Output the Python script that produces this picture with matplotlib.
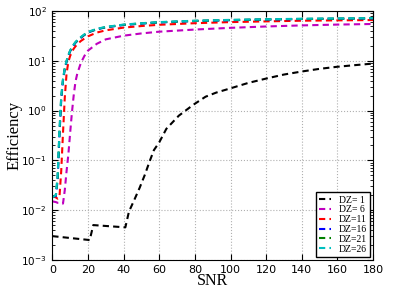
import matplotlib
matplotlib.use("Agg")
import matplotlib.pyplot as plt

# SNR sample points and efficiency values
snr_dz1 = [0, 21, 23, 41, 43, 46, 49, 52, 54.5, 57, 60, 64, 71, 79, 86, 92, 100, 110, 120, 130, 140, 150, 160, 170, 180]
eff_dz1 = [0.003, 0.0025, 0.005, 0.0045, 0.0093, 0.016, 0.028, 0.052, 0.093, 0.16, 0.23, 0.43, 0.79, 1.3, 1.9, 2.3, 2.8, 3.6, 4.4, 5.3, 6.1, 6.9, 7.6, 8.2, 8.8]

snr = [0, 2, 3, 4, 5, 6, 7, 8, 9, 10, 11, 12, 13, 14, 16, 18, 20, 25, 30, 40, 50, 60, 80, 100, 120, 140, 160, 180]
eff_dz6 = [0.015, 0.0145, 0.014, 0.014, 0.014, 0.0135, 0.025, 0.06, 0.13, 0.35, 0.9, 2.0, 3.8, 5.5, 9.0, 12.5, 16.0, 22.0, 27.0, 32.0, 35.5, 38.5, 42.5, 46.0, 49.0, 51.5, 53.5, 55.0]
eff_dz11 = [0.019, 0.018, 0.017, 0.018, 0.06, 0.35, 1.8, 5.5, 9.5, 12.5, 15.0, 17.5, 19.5, 21.5, 25.0, 28.0, 31.0, 37.0, 41.0, 46.5, 50.0, 53.0, 57.0, 60.0, 62.0, 64.0, 65.0, 66.0]
eff_dz16 = [0.019, 0.019, 0.04, 0.3, 1.6, 4.0, 6.8, 9.5, 12.5, 15.5, 18.0, 20.5, 23.0, 25.0, 29.0, 33.0, 37.0, 43.0, 47.0, 52.5, 56.0, 59.0, 63.0, 65.5, 67.5, 69.0, 70.0, 71.0]
eff_dz21 = [0.018, 0.02, 0.045, 0.35, 1.8, 4.2, 7.0, 9.8, 12.8, 15.8, 18.5, 21.0, 23.5, 25.5, 29.5, 33.5, 37.5, 43.5, 47.5, 53.0, 56.5, 59.5, 63.5, 66.0, 68.0, 69.5, 70.5, 71.5]
eff_dz26 = [0.018, 0.02, 0.05, 0.4, 1.9, 4.3, 7.2, 10.0, 13.0, 16.0, 18.8, 21.3, 23.8, 26.0, 30.0, 34.0, 38.0, 44.0, 48.0, 53.5, 57.0, 60.0, 64.0, 66.5, 68.5, 70.0, 71.0, 72.0]

labels = ["DZ= 1", "DZ= 6", "DZ=11", "DZ=16", "DZ=21", "DZ=26"]
colors = ["k", "m", "r", "b", "g", "c"]

serif = "Liberation Serif"

fig = plt.figure(figsize=(4.15, 2.91), dpi=100)
ax = fig.add_axes([0.126, 0.107, 0.773, 0.855])

series = [(snr_dz1, eff_dz1), (snr, eff_dz6), (snr, eff_dz11),
          (snr, eff_dz16), (snr, eff_dz21), (snr, eff_dz26)]
for (x, y), lab, col in zip(series, labels, colors):
    ax.plot(x, y, linestyle="--", dashes=(3, 2), color=col, lw=1.5, label=lab)

ax.set_yscale("log")
ax.set_xlim(0, 180)
ax.set_ylim(1e-3, 1e2)
ax.set_xticks(range(0, 181, 20))
ax.grid(True, which="major", linestyle=":", color="#b0b0b0", lw=0.8)
ax.tick_params(which="both", direction="in", top=True, right=True, labelsize=8)
ax.tick_params(axis="y", labelsize=7.5, pad=4)
ax.tick_params(which="major", length=4)
ax.tick_params(which="minor", length=2)
for s in ax.spines.values():
    s.set_linewidth(0.8)

ax.set_xlabel("SNR", family=serif, fontsize=11.5, labelpad=-1)
ax.set_ylabel("Efficiency", family=serif, fontsize=12, labelpad=-1)

leg = ax.legend(loc="lower right", prop={"family": serif, "size": 7},
                handlelength=1.2, handletextpad=0.8, labelspacing=0.08,
                fancybox=False, framealpha=1, borderpad=0.35,
                borderaxespad=0.3)
leg.get_frame().set_edgecolor("k")

fig.savefig("out.png", dpi=100)
